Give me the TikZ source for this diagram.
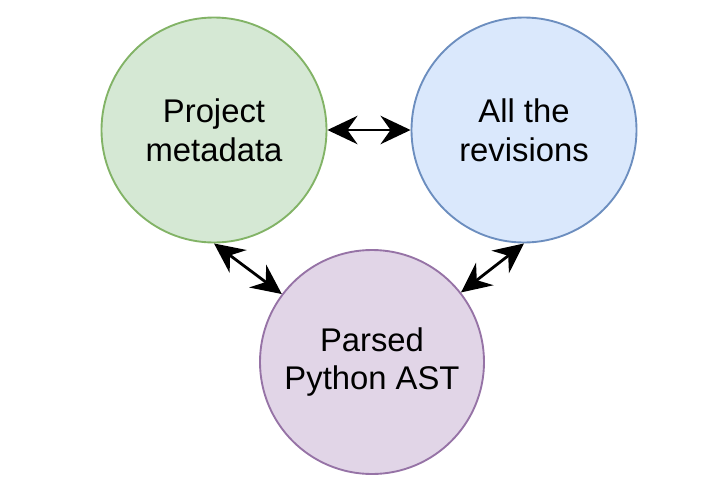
\documentclass[tikz,border=0pt]{standalone}
\usepackage{fontspec}
\setmainfont{Liberation Sans}
\usetikzlibrary{arrows.meta}
\definecolor{metafill}{HTML}{D5E8D4}
\definecolor{metadraw}{HTML}{82B366}
\definecolor{revfill}{HTML}{DAE8FC}
\definecolor{revdraw}{HTML}{6C8EBF}
\definecolor{astfill}{HTML}{E1D5E7}
\definecolor{astdraw}{HTML}{9673A6}

\begin{document}
\begin{tikzpicture}[
    x=0.03cm,
    y=-0.03cm,
    >={Stealth[length=0.9cm,width=0.85cm,inset=0.3cm]},
    bubble/.style={
      circle,
      draw,
      line width=1.6pt,
      minimum size=6.75cm,
      inner sep=0pt,
      align=center,
      font=\fontsize{28}{33}\selectfont
    },
    link/.style={
      <->,
      line width=2.4pt
    }
  ]
    \useasboundingbox (0,0) rectangle (720,498);

    \node[bubble,fill=metafill,draw=metadraw] (meta) at (214,130) {Project\\metadata};
    \node[bubble,fill=revfill,draw=revdraw] (rev) at (524,130) {All the\\revisions};
    \node[bubble,fill=astfill,draw=astdraw,minimum size=6.72cm] (ast) at (372,362) {Parsed\\Python AST};

    \draw[link] (meta) -- (rev);
    \draw[link] (meta.south) -- (ast.143);
    \draw[link] (rev.south) -- (ast.38);
  \end{tikzpicture}
\end{document}
